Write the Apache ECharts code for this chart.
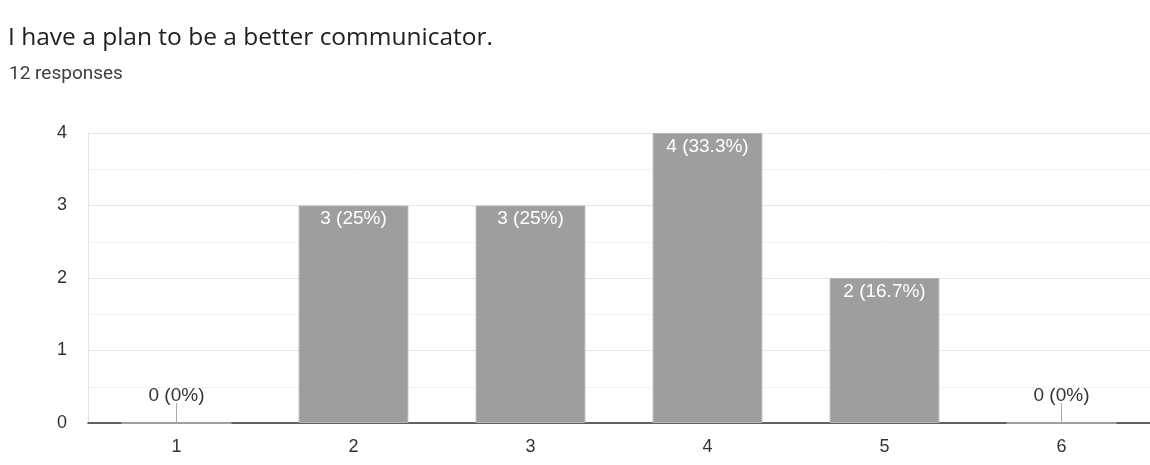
<!DOCTYPE html>
<html>
<head>
<meta charset="utf-8">
<script src="https://cdn.jsdelivr.net/npm/echarts@6/dist/echarts.min.js"></script>
<style>
  html, body { margin: 0; padding: 0; background: #fff; }
  #chart { width: 1150px; height: 465px; }
</style>
</head>
<body>
<div id="chart"></div>
<script>
// Survey answers on a 1–6 scale
const categories = ['1', '2', '3', '4', '5', '6'];
const counts = [0, 3, 3, 4, 2, 0];
const yTicks = [0, 1, 2, 3, 4];

const total = counts.reduce((a, b) => a + b, 0);
function pctLabel(v) {
  const p = Math.round((v / total) * 1000) / 10;
  return v + ' (' + p + '%)';
}

const AXIS_FONT = '"Liberation Sans", Arial, sans-serif';
const HEAD_FONT = '"Open Sans", Roboto, sans-serif';

const chart = echarts.init(document.getElementById('chart'));
chart.setOption({
  animation: false,
  textStyle: { fontFamily: AXIS_FONT },
  title: [
    {
      text: 'I have a plan to be a better communicator.',
      left: 3, top: 21,
      textStyle: { fontSize: 24.5, fontWeight: 'normal', color: '#202124', fontFamily: HEAD_FONT }
    },
    {
      text: '12 responses',
      left: 4, top: 60,
      textStyle: { fontSize: 19, fontWeight: 'normal', color: '#3c4043', fontFamily: 'Roboto, sans-serif' }
    }
  ],
  grid: { left: 88, top: 133, width: 1067, bottom: 42, containLabel: false },
  xAxis: {
    type: 'category',
    data: categories,
    axisLine: { lineStyle: { color: '#333', width: 1.5 } },
    axisTick: { show: false },
    axisLabel: { color: '#333', fontSize: 18, margin: 15 }
  },
  yAxis: {
    type: 'value',
    min: yTicks[0], max: yTicks[yTicks.length - 1], interval: 1,
    axisLine: { show: true, lineStyle: { color: '#e4e4e4' } },
    axisTick: { show: false },
    axisLabel: { color: '#333', fontSize: 18, margin: 21 },
    splitLine: { lineStyle: { color: '#e6e6e6' } },
    minorTick: { show: false, splitNumber: 2 },
    minorSplitLine: { show: true, lineStyle: { color: '#f3f3f3' } }
  },
  series: [
    {
      type: 'bar',
      data: counts,
      barWidth: '62%',
      itemStyle: { color: '#9e9e9e', borderColor: '#b5b5b5', borderWidth: 1 },
      label: {
        show: true,
        position: 'insideTop',
        distance: 4,
        color: '#fff',
        fontSize: 19,
        formatter: p => (p.value > 0 ? pctLabel(p.value) : '')
      }
    },
    {
      // Labels for empty answers, with a short leader line up from the axis
      type: 'custom',
      data: counts.map((v, i) => [i, v]),
      renderItem: function (params, api) {
        const v = api.value(1);
        if (v !== 0) return null;
        const base = api.coord([api.value(0), v]);
        return {
          type: 'group',
          children: [
            {
              type: 'line',
              shape: { x1: base[0], y1: base[1], x2: base[0], y2: base[1] - 20 },
              style: { stroke: '#aaa', lineWidth: 1 }
            },
            {
              type: 'text',
              style: {
                text: pctLabel(v),
                x: base[0], y: base[1] - 18,
                align: 'center', verticalAlign: 'bottom',
                fill: '#333', fontSize: 19,
                fontFamily: AXIS_FONT
              }
            }
          ]
        };
      },
      z: 5
    }
  ]
});
</script>
</body>
</html>
